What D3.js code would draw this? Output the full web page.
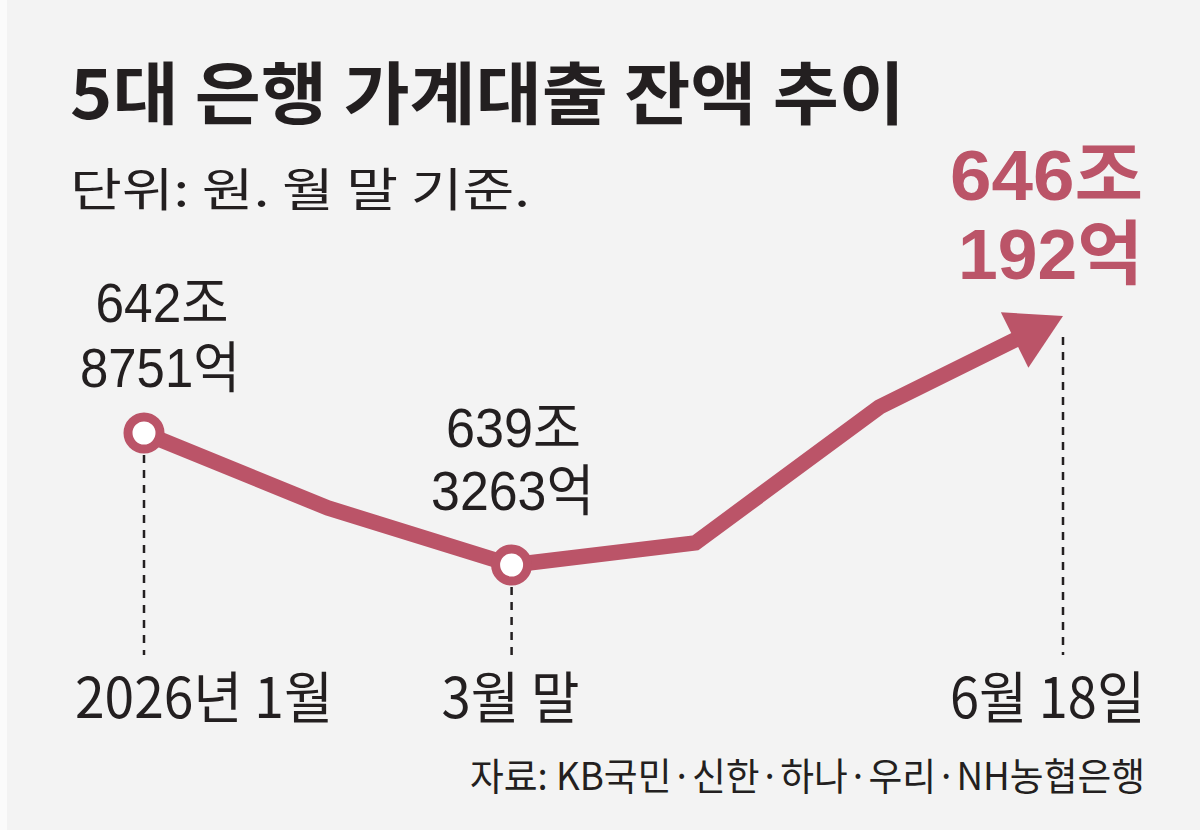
<!DOCTYPE html>
<html>
<head>
<meta charset="utf-8">
<script src="https://cdn.jsdelivr.net/npm/d3@7"></script>
<style>
  html, body { margin: 0; padding: 0; background: #f3f3f3; }
  svg { display: block; }
  text { font-family: "Noto Sans CJK KR", "Noto Sans", sans-serif; }
  text.num { font-family: "Liberation Sans", "Noto Sans CJK KR", sans-serif; }
</style>
</head>
<body>
<svg id="chart" width="1200" height="830"></svg>
<script>
// ---- data ----
const periods = ["2026-01", "2026-02", "2026-03", "2026-04", "2026-05", "2026-06-18"];
const balances = [642.8751, 640.86, 639.3263, 639.92, 643.57, 646.0192]; // 조 원
const markedIdx = [0, 2];           // points drawn with circles
const valueLabelsJan = ["642조", "8751억"];
const valueLabelsMar = ["639조", "3263억"];
const valueLabelsJun = ["646조", "192억"];
const tickIdx = [0, 2, 5];
const tickLabels = ["2026년 1월", "3월 말", "6월 18일"];
const title = "5대 은행 가계대출 잔액 추이";
const subtitle = "단위: 원. 월 말 기준.";
const source = "자료: KB국민·신한·하나·우리·NH농협은행";

// ---- setup ----
const RED = "#bb5468", INK = "#231f20";
const svg = d3.select("#chart");
svg.append("rect").attr("width", 1200).attr("height", 830).attr("fill", "#f3f3f3");
svg.append("rect").attr("width", 7).attr("height", 830).attr("fill", "#fbfbfb");

const x = d3.scaleLinear().domain([0, periods.length - 1]).range([144, 1063]);
const y = d3.scaleLinear().domain([639.3263, 642.8751]).range([565, 433]);

function txt(str, px, py, opts) {
  const t = svg.append("text").text(str).attr("x", px).attr("y", py)
    .attr("font-size", opts.size).attr("font-weight", opts.weight || 400)
    .attr("fill", opts.fill || INK).attr("text-anchor", opts.anchor || "start");
  if (opts.cls) t.attr("class", opts.cls);
  if (opts.len) t.attr("textLength", opts.len).attr("lengthAdjust", "spacingAndGlyphs");
  return t;
}

// title & subtitle
txt(title, 70, 119, {size: 68, weight: 700, len: 835});
txt(subtitle, 70, 206, {size: 46, weight: 400, len: 460});

// dashed guides
const baseY = 655;
tickIdx.forEach(i => {
  const top = i === periods.length - 1 ? 337 : y(balances[i]) + 22;
  svg.append("line")
    .attr("x1", x(i)).attr("x2", x(i)).attr("y1", top).attr("y2", baseY)
    .attr("stroke", INK).attr("stroke-width", 2.5).attr("stroke-dasharray", "8 7");
});

// line + arrow
const pts = balances.map((v, i) => [x(i), y(v)]);
const tip = pts[pts.length - 1], prev = pts[pts.length - 2];
const dx = tip[0] - prev[0], dy = tip[1] - prev[1], len = Math.hypot(dx, dy);
const ux = dx / len, uy = dy / len, nx = -uy, ny = ux;
const headL = 54, headW = 31;
const base = [tip[0] - ux * headL, tip[1] - uy * headL];
const linePts = pts.slice(0, -1).concat([[tip[0] - ux * (headL - 8), tip[1] - uy * (headL - 8)]]);
svg.append("path").attr("d", d3.line()(linePts))
  .attr("fill", "none").attr("stroke", RED).attr("stroke-width", 15.5)
  .attr("stroke-linejoin", "miter").attr("stroke-linecap", "butt");
svg.append("path")
  .attr("d", d3.line()([tip, [base[0] + nx * headW, base[1] + ny * headW], [base[0] - nx * headW, base[1] - ny * headW]]) + "Z")
  .attr("fill", RED);

// circles
markedIdx.forEach(i => {
  svg.append("circle").attr("cx", x(i)).attr("cy", y(balances[i])).attr("r", 16)
    .attr("fill", "#ffffff").attr("stroke", RED).attr("stroke-width", 9);
});

// value labels
const jx = x(0), jy = y(balances[0]);
txt(valueLabelsJan[0], jx + 18, jy - 111, {size: 55, anchor: "middle", len: 133, cls: "num"});
txt(valueLabelsJan[1], jx + 16, jy - 46, {size: 55, anchor: "middle", len: 160, cls: "num"});
const mx = x(2), my = y(balances[2]);
txt(valueLabelsMar[0], mx + 2, my - 118, {size: 55, anchor: "middle", len: 135, cls: "num"});
txt(valueLabelsMar[1], mx + 1, my - 55, {size: 55, anchor: "middle", len: 163, cls: "num"});
txt(valueLabelsJun[0], 1143, 200, {size: 70, weight: 700, anchor: "end", fill: RED, len: 193, cls: "num"});
txt(valueLabelsJun[1], 1143, 279, {size: 70, weight: 700, anchor: "end", fill: RED, len: 185, cls: "num"});

// axis tick labels
txt(tickLabels[0], 75, 718, {size: 56, anchor: "start", len: 258});
txt(tickLabels[1], x(tickIdx[1]) - 1, 718, {size: 56, anchor: "middle", len: 138});
txt(tickLabels[2], 1145, 718, {size: 56, anchor: "end", len: 195});

// source
txt(source, 1145, 790, {size: 38, anchor: "end", len: 675});
</script>
</body>
</html>
